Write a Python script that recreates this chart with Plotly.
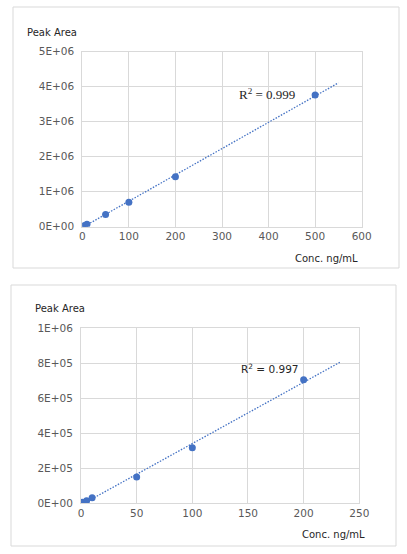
import numpy as np
import plotly.graph_objects as go

W, H = 407, 554

# upper calibration curve
conc_a = [1, 5, 10, 50, 100, 200, 500]
area_a = [7e3, 3.6e4, 7.2e4, 3.5e5, 6.97e5, 1.43e6, 3.76e6]
r2_a = "R<sup>2</sup> = 0.999"
yticks_a = [0, 1e6, 2e6, 3e6, 4e6, 5e6]
ylabels_a = ["0E+00", "1E+06", "2E+06", "3E+06", "4E+06", "5E+06"]
xticks_a = [0, 100, 200, 300, 400, 500, 600]

# lower calibration curve
conc_b = [1, 5, 10, 50, 100, 200]
area_b = [4e3, 1.3e4, 3.0e4, 1.49e5, 3.16e5, 7.05e5]
r2_b = "R<sup>2</sup> = 0.997"
yticks_b = [0, 2e5, 4e5, 6e5, 8e5, 1e6]
ylabels_b = ["0E+00", "2E+05", "4E+05", "6E+05", "8E+05", "1E+06"]
xticks_b = [0, 50, 100, 150, 200, 250]

blue = "#4472C4"
grid = "#d9d9d9"
tickfont = dict(family="DejaVu Sans", size=10.5, color="#595959")


def px(x):
    return x / W


def py(y):
    return 1 - y / H


fig = go.Figure()

# linear trendline (least squares fit, like the spreadsheet) + measured points
for conc, area, xa, ya, xend in [(conc_a, area_a, "x", "y", 550), (conc_b, area_b, "x2", "y2", 233)]:
    k, d = np.polyfit(conc, area, 1)
    fig.add_trace(go.Scatter(
        x=[0, xend], y=[d, k * xend + d], mode="lines",
        line=dict(color=blue, width=1.3, dash="1.5px,1.5px"),
        xaxis=xa, yaxis=ya, hoverinfo="skip"))
    fig.add_trace(go.Scatter(
        x=conc, y=area, mode="markers",
        marker=dict(color=blue, size=7),
        xaxis=xa, yaxis=ya))

axis_common = dict(showgrid=True, gridcolor=grid, gridwidth=1, zeroline=False,
                   showline=True, linecolor=grid, mirror=True, tickfont=tickfont,
                   fixedrange=True, automargin=False)

fig.update_layout(
    width=W, height=H,
    margin=dict(l=0, r=0, t=0, b=0),
    paper_bgcolor="white", plot_bgcolor="white",
    showlegend=False,
    xaxis=dict(domain=[px(82.3), px(361.7)], range=[0, 600], tickvals=xticks_a,
               anchor="y", **axis_common),
    yaxis=dict(domain=[py(226.7), py(51.7)], range=[0, 5e6], tickvals=yticks_a,
               ticktext=ylabels_a, anchor="x", ticklabelstandoff=5, **axis_common),
    xaxis2=dict(domain=[px(81), px(359.3)], range=[0, 250], tickvals=xticks_b,
                anchor="y2", **axis_common),
    yaxis2=dict(domain=[py(503), py(328)], range=[0, 1e6], tickvals=yticks_b,
                ticktext=ylabels_b, anchor="x2", ticklabelstandoff=5, **axis_common),
    shapes=[
        dict(type="rect", xref="paper", yref="paper", x0=px(13), x1=px(399),
             y0=py(268), y1=py(7), line=dict(color=grid, width=1)),
        dict(type="rect", xref="paper", yref="paper", x0=px(11), x1=px(396),
             y0=py(546), y1=py(285), line=dict(color=grid, width=1)),
    ],
)

titlefont = dict(family="DejaVu Sans", size=10, color="#262626")
fig.add_annotation(text="Peak Area", xref="paper", yref="paper", x=px(25), y=py(32),
                   xanchor="left", yanchor="middle", showarrow=False, font=titlefont)
fig.add_annotation(text="Conc. ng/mL", xref="paper", yref="paper", x=px(360), y=py(258),
                   xanchor="right", yanchor="middle", showarrow=False, font=titlefont)
fig.add_annotation(text="Peak Area", xref="paper", yref="paper", x=px(33), y=py(308),
                   xanchor="left", yanchor="middle", showarrow=False, font=titlefont)
fig.add_annotation(text="Conc. ng/mL", xref="paper", yref="paper", x=px(367), y=py(534),
                   xanchor="right", yanchor="middle", showarrow=False, font=titlefont)

fig.add_annotation(text=r2_a, xref="x", yref="y", x=397, y=3.8e6, showarrow=False,
                   font=dict(family="Liberation Serif", size=13, color="#262626"))
fig.add_annotation(text=r2_b, xref="x2", yref="y2", x=170, y=7.7e5, showarrow=False,
                   font=dict(family="DejaVu Sans", size=10.5, color="#262626"))

page_fix = ("document.documentElement.style.overflow='hidden';"
            "document.body.style.overflow='hidden';"
            "document.body.style.margin='0';")
fig.write_html("out.html", config={"displayModeBar": False}, post_script=page_fix)
